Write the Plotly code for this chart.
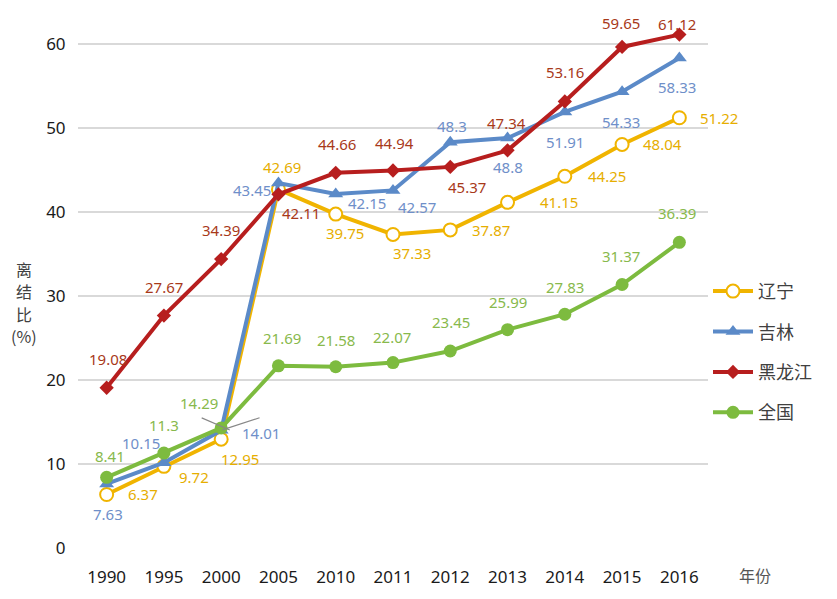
import plotly.graph_objects as go

years = ["1990", "1995", "2000", "2005", "2010", "2011", "2012", "2013", "2014", "2015", "2016"]
liaoning = [6.37, 9.72, 12.95, 42.69, 39.75, 37.33, 37.87, 41.15, 44.25, 48.04, 51.22]
jilin = [7.63, 10.15, 14.01, 43.45, 42.15, 42.57, 48.3, 48.8, 51.91, 54.33, 58.33]
heilongjiang = [19.08, 27.67, 34.39, 42.11, 44.66, 44.94, 45.37, 47.34, 53.16, 59.65, 61.12]
quanguo = [8.41, 11.3, 14.29, 21.69, 21.58, 22.07, 23.45, 25.99, 27.83, 31.37, 36.39]
names = ["辽宁", "吉林", "黑龙江", "全国"]
y_ticks = [0, 10, 20, 30, 40, 50, 60]

# label offsets in screen pixels (dx right, dy down)
off_ln = [(36, 0), (30, 11), (19, 20), (4, -22), (9, 19), (19, 19), (41, 0), (51, 0), (42, 0), (40, 0), (40, 0)]
off_jl = [(1, 30), (-23, -20), (40, 3), (-26, 7), (31, 9), (24, 17), (2, -16), (0, 29), (0, 30), (-1, 30), (-2, 29)]
off_hlj = [(1, -29), (0, -29), (0, -29), (23, 19), (1, -29), (1, -28), (17, 20), (-1, -27), (0, -29), (-1, -24), (-2, -11)]
off_qg = [(3, -21), (0, -28), (-22, -25), (4, -28), (0, -27), (-1, -26), (1, -29), (0, -28), (0, -27), (-1, -28), (-2, -29)]

series = [
    (names[0], liaoning, "#F0B400", "#E6AE00",
     dict(symbol="circle", size=13, color="white", line=dict(color="#F0B400", width=2)), off_ln),
    (names[1], jilin, "#5B8AC8", "#6F8FC9",
     dict(symbol="triangle-up", size=13, color="#5B8AC8"), off_jl),
    (names[2], heilongjiang, "#B71E1E", "#A8391A",
     dict(symbol="diamond", size=11, color="#B71E1E"), off_hlj),
    (names[3], quanguo, "#7DBB3F", "#88B94C",
     dict(symbol="circle", size=13, color="#7DBB3F"), off_qg),
]

FONT = "Noto Sans, Noto Sans CJK SC, sans-serif"

fig = go.Figure()
annotations = []
for i, (name, vals, col, lcol, mk, offs) in enumerate(series):
    fig.add_trace(go.Scatter(
        x=years, y=vals, name=name, mode="lines+markers",
        line=dict(color=col, width=4), marker=mk, cliponaxis=False,
        legendgroup=f"g{i}",
    ))
    for xi, (v, (dx, dy)) in enumerate(zip(vals, offs)):
        annotations.append(dict(
            x=xi, y=v, xref="x", yref="y", text=f"{v:g}", showarrow=False,
            xshift=dx, yshift=-dy, font=dict(family=FONT, size=15, color=lcol),
        ))

# y-axis title, one character per line
title_parts = ["离", "结", "比", "(%)"]
for k, t in enumerate(title_parts):
    annotations.append(dict(
        x=0, y=0.5, xref="paper", yref="paper", xshift=-54, yshift=(1.5 - k) * 22.5 - 17,
        text=t, showarrow=False, xanchor="center", yanchor="middle",
        font=dict(family="Noto Sans CJK SC", size=16, color="#404040"),
    ))
annotations.append(dict(
    x=1, y=0, xref="paper", yref="paper", xshift=47, yshift=-27,
    text="年份", showarrow=False, xanchor="center", yanchor="middle",
    font=dict(family="Noto Sans CJK SC", size=16, color="#555555"),
))

# leader lines for the 2000 labels
shapes = [
    dict(type="line", xref="x", yref="y", x0=2.02, y0=jilin[2] + 0.05, x1=2.67, y1=jilin[2] + 1.5,
         line=dict(color="#888888", width=1.2)),
    dict(type="line", xref="x", yref="y", x0=2.15, y0=quanguo[2] - 0.25, x1=1.66, y1=quanguo[2] + 1.2,
         line=dict(color="#888888", width=1.2)),
]

fig.update_layout(
    width=829, height=591,
    margin=dict(l=70, r=129, t=15, b=51),
    paper_bgcolor="white", plot_bgcolor="white",
    font=dict(family=FONT),
    showlegend=True,
    legend=dict(x=1.0, xanchor="left", y=0.524, yanchor="top",
                font=dict(family="Noto Sans CJK SC", size=18, color="#404040"),
                tracegroupgap=14, itemwidth=40, bgcolor="rgba(0,0,0,0)"),
    annotations=annotations,
    shapes=shapes,
    xaxis=dict(type="category", range=[-0.5, 10.5], showgrid=False, zeroline=False,
               showline=False, ticks="outside", ticklen=14, tickcolor="rgba(0,0,0,0)",
               tickfont=dict(family=FONT, size=17, color="#1a1a1a")),
    yaxis=dict(range=[0, 62.5], tickvals=y_ticks, showgrid=True, gridcolor="#D9D9D9", gridwidth=1.5,
               zeroline=False, showline=False, ticks="outside", ticklen=8,
               tickcolor="rgba(0,0,0,0)",
               tickfont=dict(family=FONT, size=17, color="#1a1a1a")),
)

fig.write_html("out.html")
